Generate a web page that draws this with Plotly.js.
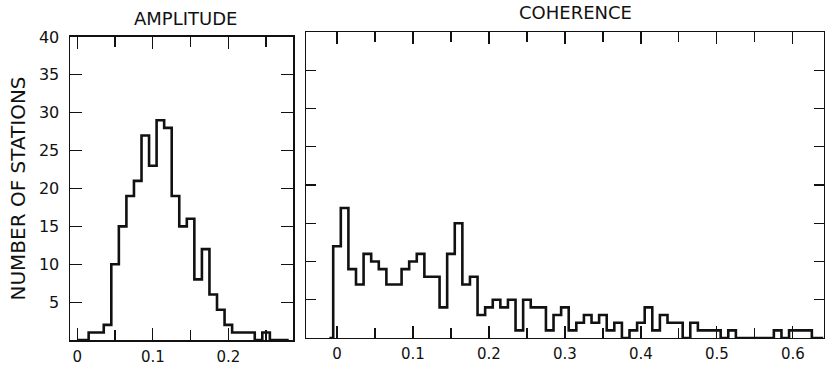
<!DOCTYPE html>
<html>
<head>
<meta charset="utf-8">
<script src="https://cdn.plot.ly/plotly-3.0.1.min.js"></script>
<style>html,body{margin:0;padding:0;background:#fff;}#chart{width:825px;height:366px;}</style>
</head>
<body>
<div id="chart"></div>
<script>
// Histogram data: counts per bin of width 0.01, first bin centred at binStart
const binWidth = 0.01;
const ampBinStart = 0.00;
const ampCounts = [0, 0, 1, 1, 2, 10, 15, 19, 21, 27, 23, 29, 28, 19, 15, 16, 8, 12, 6, 4, 2, 1, 1, 1, 0, 1, 0, 0, 0];
const cohBinStart = -0.01;
const cohCounts = [0,
  12, 17, 9, 7, 11, 10, 9, 7, 7, 9,
  10, 11, 8, 8, 4, 11, 15, 7, 8, 3,
  4, 5, 4, 5, 1, 5, 4, 4, 1, 3,
  4, 1, 2, 3, 2, 3, 1, 2, 0, 1,
  2, 4, 1, 3, 2, 2, 0, 2, 1, 1,
  1, 0, 1, 0, 0, 0, 0, 0, 1, 0,
  1, 1, 1, 0, 0];
const yTickVals = [5, 10, 15, 20, 25, 30, 35, 40];
const panelTitles = ['AMPLITUDE', 'COHERENCE'];
const yTitle = 'NUMBER OF STATIONS';

const ink = '#111';
const font = {family: 'DejaVu Sans', color: ink};

const traces = [
  {x0: ampBinStart, dx: binWidth, y: ampCounts, type: 'scatter', mode: 'lines',
   line: {shape: 'hvh', color: ink, width: 2.6}, xaxis: 'x', yaxis: 'y', hoverinfo: 'skip'},
  {x0: cohBinStart, dx: binWidth, y: cohCounts, type: 'scatter', mode: 'lines',
   line: {shape: 'hvh', color: ink, width: 2.6}, xaxis: 'x2', yaxis: 'y2', hoverinfo: 'skip'}
];

const xCommon = {
  showline: true, linecolor: ink, linewidth: 1.5, mirror: 'ticks',
  ticks: 'inside', ticklen: 12, tickwidth: 1.2, tickcolor: ink,
  tick0: 0, dtick: 0.1, showgrid: false, zeroline: false,
  minor: {ticks: 'inside', ticklen: 10, tickwidth: 1.2, tickcolor: ink, dtick: 0.05, tick0: 0, showgrid: false},
  tickfont: Object.assign({size: 15}, font), ticklabelstandoff: 2, fixedrange: true
};
const yCommon = {
  showline: true, linecolor: ink, linewidth: 1.5, mirror: 'ticks',
  ticks: 'inside', ticklen: 12, tickwidth: 1.2, tickcolor: ink,
  tickvals: yTickVals, showgrid: false, zeroline: false, range: [0, 40],
  tickfont: Object.assign({size: 16}, font), fixedrange: true
};

const layout = {
  width: 825, height: 366,
  margin: {l: 70, r: 1, t: 32, b: 26},
  paper_bgcolor: '#fff', plot_bgcolor: '#fff',
  showlegend: false,
  font: font,
  xaxis: Object.assign({}, xCommon, {domain: [0, 0.2958], range: [-0.0097, 0.2857], anchor: 'y'}),
  yaxis: Object.assign({}, yCommon, {domain: [0, 0.9838], anchor: 'x', ticklabelstandoff: 6,
    title: {text: yTitle, font: Object.assign({size: 20}, font), standoff: 8}}),
  xaxis2: Object.assign({}, xCommon, {domain: [0.313, 1], range: [-0.0408, 0.641], anchor: 'y2'}),
  yaxis2: Object.assign({}, yCommon, {domain: [0.0065, 1], anchor: 'x2', showticklabels: false, ticklen: 10}),
  annotations: [
    {text: panelTitles[0], xref: 'x domain', yref: 'paper', x: 0.52, y: 1, yshift: 1,
     showarrow: false, font: Object.assign({size: 18}, font), yanchor: 'bottom', xanchor: 'center'},
    {text: panelTitles[1], xref: 'x2 domain', yref: 'paper', x: 0.52, y: 1, yshift: 7,
     showarrow: false, font: Object.assign({size: 18}, font), yanchor: 'bottom', xanchor: 'center'}
  ]
};

Plotly.newPlot('chart', traces, layout, {staticPlot: true, displayModeBar: false});
</script>
</body>
</html>
